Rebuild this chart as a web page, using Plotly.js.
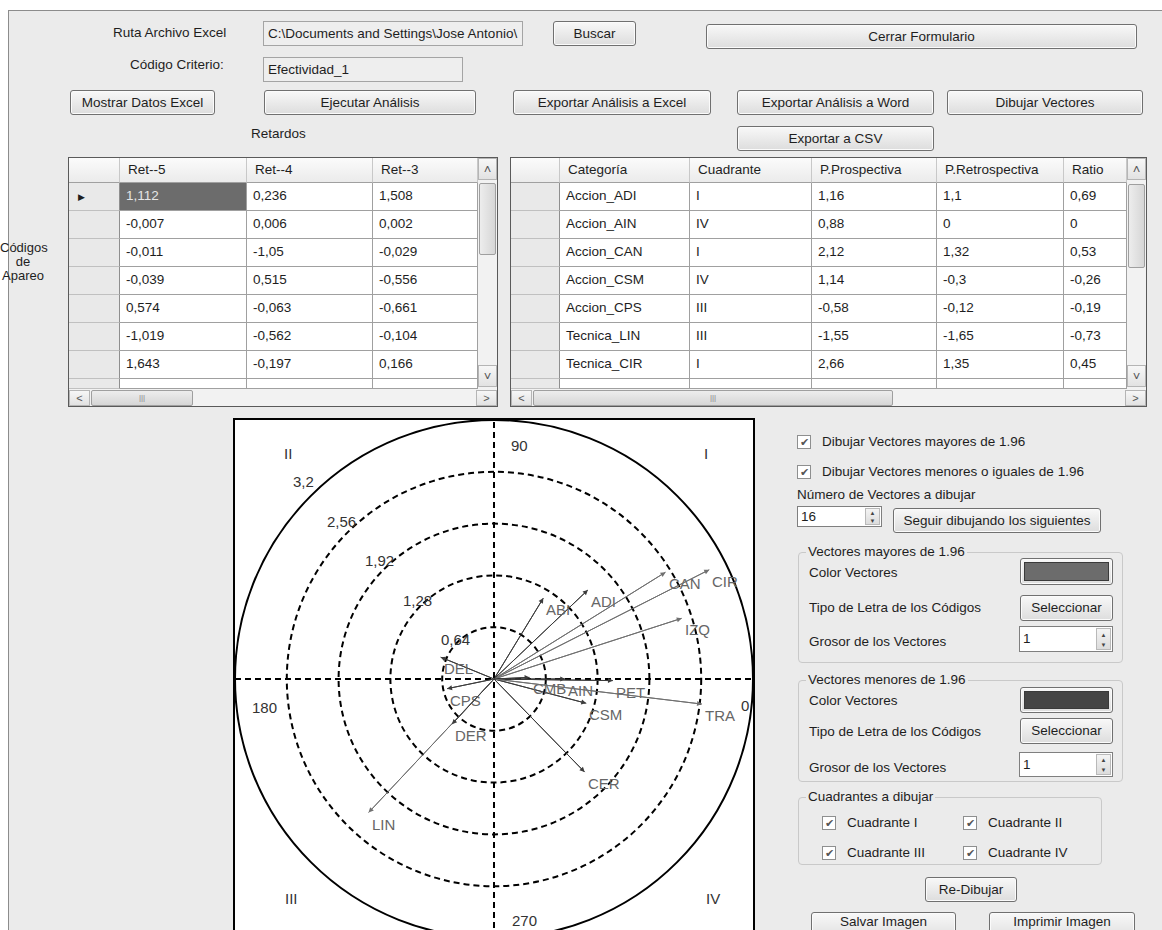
<!DOCTYPE html>
<html lang="es">
<head>
<meta charset="utf-8">
<title>Dibujar Vectores</title>
<script src="https://cdn.plot.ly/plotly-3.0.1.min.js"></script>
<style>
html,body{margin:0;padding:0}
body{position:relative;width:1162px;height:930px;overflow:hidden;background:#ffffff;font-family:"Liberation Sans",Arial,sans-serif;font-size:13.5px;color:#1e1e1e}
#form{position:absolute;left:8px;top:10px;right:0;bottom:0;background:#ebebeb;border-top:1px solid #8c8c8c;border-left:1px solid #8c8c8c}
.a{position:absolute;box-sizing:border-box;white-space:nowrap}
.btn{border:1px solid #707070;border-radius:3px;background:linear-gradient(#f8f8f8,#dddddd);text-align:center;box-shadow:inset 0 0 0 1px #fbfbfb}
.tb{border:1px solid #a4a4a4;background:#eeeeee;padding-left:4px;overflow:hidden}
.grp{border:1px solid #c9c9c9;border-radius:4px}
.chk{border:1px solid #8e8f8f;background:#fff;font-size:11px;text-align:center;color:#555}
.spin{border:1px solid #7f7f7f;background:#fff;padding-left:3px}
.spb{border:1px solid #b9b9b9;background:linear-gradient(#f4f4f4,#dcdcdc);font-size:6px;line-height:6px;text-align:center;color:#444;padding-top:1px}
.cell{border-right:1px solid #a0a0a0;border-bottom:1px solid #a0a0a0;background:#fff;padding-left:6px;overflow:hidden}
.hdr{border-right:1px solid #c8c8c8;border-bottom:1px solid #a0a0a0;background:linear-gradient(#fbfbfb,#ebebeb);padding-left:8px;overflow:hidden}
.rh{border-right:1px solid #8f8f8f;border-bottom:1px solid #ffffff;background:#e9e9e9}
.sb{background:#f2f2f2}
.sbb{border:1px solid #b5b5b5;background:linear-gradient(#f7f7f7,#e2e2e2);text-align:center;font-size:9px;color:#555}
.thumb{border:1px solid #9f9f9f;border-radius:2px;background:linear-gradient(90deg,#ededed,#d6d6d6)}
.thumbh{border:1px solid #9f9f9f;border-radius:2px;background:linear-gradient(#ededed,#d6d6d6);text-align:center;font-size:8px;color:#888}
#chart{position:absolute;left:225px;top:410px;width:538px;height:538px}
</style>
</head>
<body>
<div id="form"></div>
<div id="chart"></div>
<script>
// ---------------- data: vectors (P.Prospectiva = x, P.Retrospectiva = y) ----------------
const codes         = ['ADI', 'AIN', 'CAN', 'CSM', 'CPS', 'LIN', 'CIR', 'ABI', 'IZQ', 'CMB', 'PET', 'TRA', 'CER', 'DER', 'DEL'];
const prospectiva   = [1.16, 0.88, 2.12, 1.14, -0.58, -1.55, 2.66, 0.61, 2.32, 0.44, 1.47, 2.57, 1.12, -0.52, -0.66];
const retrospectiva = [1.10, 0.00, 1.32, -0.30, -0.12, -1.65, 1.35, 1.00, 0.75, 0.02, -0.02, -0.31, -1.15, -0.56, 0.27];
const threshold = 1.96;
const ringValues = [0.64, 1.28, 1.92, 2.56, 3.2];
const ringLabels = ['0,64', '1,28', '1,92', '2,56', '3,2'];
const quadrantLabels = ['I', 'II', 'III', 'IV'];
const angleLabels = ['0', '90', '180', '270'];

// ---------------- data: tables ----------------
const retHeaders = ['Ret--5', 'Ret--4', 'Ret--3'];
const ret5 = [1.112, -0.007, -0.011, -0.039, 0.574, -1.019, 1.643];
const ret4 = [0.236, 0.006, -1.05, 0.515, -0.063, -0.562, -0.197];
const ret3 = [1.508, 0.002, -0.029, -0.556, -0.661, -0.104, 0.166];
const resHeaders = ['Categoría', 'Cuadrante', 'P.Prospectiva', 'P.Retrospectiva', 'Ratio'];
const categorias = ['Accion_ADI', 'Accion_AIN', 'Accion_CAN', 'Accion_CSM', 'Accion_CPS', 'Tecnica_LIN', 'Tecnica_CIR'];
const cuadrantes = ['I', 'IV', 'I', 'IV', 'III', 'III', 'I'];
const pProspectiva = [1.16, 0.88, 2.12, 1.14, -0.58, -1.55, 2.66];
const pRetrospectiva = [1.1, 0, 1.32, -0.3, -0.12, -1.65, 1.35];
const ratio = [0.69, 0, 0.53, -0.26, -0.19, -0.73, 0.45];

const fmt = v => String(v).replace('.', ',');

// ---------------- form helpers ----------------
function el(cls, x, y, w, h, text, style) {
  const d = document.createElement('div');
  d.className = 'a ' + (cls || '');
  d.style.left = x + 'px'; d.style.top = y + 'px';
  if (w != null) d.style.width = w + 'px';
  if (h != null) { d.style.height = h + 'px'; d.style.lineHeight = (h - 2) + 'px'; }
  if (text != null) d.textContent = text;
  if (style) Object.assign(d.style, style);
  document.body.appendChild(d);
  return d;
}
function label(x, yc, text, style) { return el('', x, yc - 9, null, 18, text, Object.assign({lineHeight: '18px'}, style || {})); }
function btn(x, y, w, h, text, style) { return el('btn', x, y, w, h, text, style); }
function chk(x, y, text) { el('chk', x, y, 14, 14, '\u2714', {lineHeight: '12px'}); label(x + 25, y + 7, text); }
function spin(x, y, w, h, text) {
  el('spin', x, y, w, h, text);
  el('spb', x + w - 17, y + 2, 15, h - 4, '\u25B2\n\u25BC', {whiteSpace: 'pre', lineHeight: ((h - 6) / 2) + 'px'});
}
function group(x, y, w, h, title) { el('grp', x, y, w, h); label(x + 8, y, title, {background: '#ebebeb', padding: '0 2px'}); }
function swatch(x, y, w, h, color) {
  el('btn', x, y, w, h);
  el('', x + 4, y + 4, w - 8, h - 8, null, {background: color, border: '1px solid #3a3a3a'});
}

// ---------------- top controls ----------------
label(113, 33, 'Ruta Archivo Excel');
el('tb', 263, 21, 260, 25, 'C:\\Documents and Settings\\Jose Antonio\\');
btn(553, 21, 83, 25, 'Buscar');
btn(706, 24, 431, 25, 'Cerrar Formulario');
label(130, 65, 'Código Criterio:');
el('tb', 263, 57, 200, 25, 'Efectividad_1');
btn(70, 90, 145, 25, 'Mostrar Datos Excel');
btn(264, 90, 212, 25, 'Ejecutar Análisis');
btn(513, 90, 198, 25, 'Exportar Análisis a Excel');
btn(737, 90, 197, 25, 'Exportar Análisis a Word');
btn(947, 90, 196, 25, 'Dibujar Vectores');
label(251, 134, 'Retardos');
btn(737, 126, 197, 25, 'Exportar a CSV');
el('', 0, 241, 46, 48, 'Códigos\nde\nApareo', {whiteSpace: 'pre', textAlign: 'center', lineHeight: '14px', fontSize: '13px'});

// ---------------- tables ----------------
function table(x0, colEdges, headers, columns, selected, thumbV, thumbH) {
  const top = 157, hh = 26, rh = 28, nrows = columns[0].length, bottom = 407, hsTop = 389;
  const right = colEdges[colEdges.length - 1];
  el('', x0, top, right + 20 - x0, bottom - top, null, {background: '#fff', border: '1px solid #5a5a5a'});
  el('hdr', x0 + 1, top + 1, colEdges[0] - x0 - 1, hh - 1, '');
  headers.forEach((h, j) => el('hdr', colEdges[j], top + 1, colEdges[j + 1] - colEdges[j], hh - 1, h, {lineHeight: (hh - 3) + 'px'}));
  for (let i = 0; i <= nrows; i++) {
    const y = top + hh + i * rh;
    const hgt = i < nrows ? rh : hsTop - y;
    el('rh', x0 + 1, y, colEdges[0] - x0 - 1, hgt, i === 0 && selected ? '\u25B6' : '', {fontSize: '9px', paddingLeft: '9px', lineHeight: rh + 'px', borderBottom: '1px solid #c0c0c0'});
    columns.forEach((col, j) => {
      const txt = i < nrows ? col[i] : '';
      const st = {lineHeight: (rh - 2) + 'px'};
      if (selected && i === 0 && j === 0) { st.background = '#6c6c6c'; st.color = '#e6e6e6'; }
      el('cell', colEdges[j], y, colEdges[j + 1] - colEdges[j], hgt, txt, st);
    });
  }
  el('sb', right, top + 1, 19, hsTop - top - 1);
  el('sbb', right, top + 1, 19, 22, '\u02C4', {fontSize: '13px', lineHeight: '22px'});
  el('thumb', right + 1, thumbV[0], 17, thumbV[1] - thumbV[0]);
  el('sbb', right, hsTop - 24, 19, 22, '\u02C5', {fontSize: '13px', lineHeight: '22px'});
  el('sb', x0 + 1, hsTop, right + 19 - x0 - 1, bottom - hsTop - 1);
  el('sbb', x0 + 1, hsTop + 1, 21, 16, '<', {lineHeight: '14px', fontSize: '11px'});
  el('thumbh', thumbH[0], hsTop + 1, thumbH[1] - thumbH[0], 16, '|||', {lineHeight: '14px'});
  el('sbb', right - 2, hsTop + 1, 21, 16, '>', {lineHeight: '14px', fontSize: '11px'});
}
table(68, [120, 247, 373, 478], retHeaders, [ret5.map(fmt), ret4.map(fmt), ret3.map(fmt)], true, [183, 255], [91, 193]);
table(510, [560, 690, 812, 937, 1064, 1127], resHeaders,
  [categorias, cuadrantes, pProspectiva.map(fmt), pRetrospectiva.map(fmt), ratio.map(fmt)], false, [184, 268], [533, 893]);

// ---------------- right panel ----------------
chk(797, 435, 'Dibujar Vectores mayores de 1.96');
chk(797, 465, 'Dibujar Vectores menores o iguales de 1.96');
label(797, 495, 'Número de Vectores a dibujar');
spin(797, 506, 85, 21, '16');
btn(893, 508, 208, 25, 'Seguir dibujando los siguientes');
group(798, 552, 325, 111, 'Vectores mayores de 1.96');
label(809, 573, 'Color Vectores');
swatch(1020, 558, 93, 27, '#6c6c6c');
label(809, 608, 'Tipo de Letra de los Códigos');
btn(1020, 595, 93, 26, 'Seleccionar');
label(809, 642, 'Grosor de los Vectores');
spin(1019, 626, 94, 26, '1');
group(798, 680, 325, 102, 'Vectores menores de 1.96');
label(809, 701, 'Color Vectores');
swatch(1020, 687, 93, 26, '#454545');
label(809, 732, 'Tipo de Letra de los Códigos');
btn(1020, 718, 93, 26, 'Seleccionar');
label(809, 768, 'Grosor de los Vectores');
spin(1019, 752, 94, 25, '1');
group(798, 797, 304, 68, 'Cuadrantes a dibujar');
chk(822, 816, 'Cuadrante I');
chk(963, 816, 'Cuadrante II');
chk(822, 846, 'Cuadrante III');
chk(963, 846, 'Cuadrante IV');
btn(925, 877, 92, 25, 'Re-Dibujar');
btn(811, 912, 145, 30, 'Salvar Imagen', {lineHeight: '14px', paddingTop: '2px'});
btn(989, 912, 146, 30, 'Imprimir Imagen', {lineHeight: '14px', paddingTop: '2px'});

// ---------------- polar vector chart (Plotly) ----------------
const big = [], small = [];
codes.forEach((c, i) => {
  const m = Math.hypot(prospectiva[i], retrospectiva[i]);
  (m > threshold ? big : small).push(i);
});
const colBig = '#707070', colSmall = '#3c3c3c';
function vecTrace(idx, color, name) {
  const xs = [], ys = [];
  idx.forEach(i => { xs.push(0, prospectiva[i], null); ys.push(0, retrospectiva[i], null); });
  return {type: 'scatter', mode: 'lines', x: xs, y: ys, name, line: {color, width: 1}, hoverinfo: 'skip', showlegend: false};
}
const traces = [vecTrace(big, colBig, 'Vectores mayores de 1.96'), vecTrace(small, colSmall, 'Vectores menores de 1.96')];

const dash = '6px,4px';
const shapes = [];
ringValues.forEach((r, k) => {
  shapes.push({type: 'circle', xref: 'x', yref: 'y', x0: -r, y0: -r, x1: r, y1: r,
    line: {color: '#000', width: 2, dash: k === ringValues.length - 1 ? 'solid' : dash}});
});
const R = ringValues[ringValues.length - 1];
shapes.push({type: 'line', xref: 'x', yref: 'y', x0: -R, x1: R, y0: 0, y1: 0, line: {color: '#000', width: 2, dash}});
shapes.push({type: 'line', xref: 'x', yref: 'y', x0: 0, x1: 0, y0: -R, y1: R, line: {color: '#000', width: 2, dash}});

const annotations = [];
const fnt = (c) => ({family: 'Liberation Sans, Arial, sans-serif', size: 15, color: c});
const th = 134 * Math.PI / 180;
ringValues.forEach((r, k) => {
  annotations.push({x: r * 1.06 * Math.cos(th), y: r * 1.06 * Math.sin(th), text: ringLabels[k], showarrow: false,
    xanchor: 'center', yanchor: 'middle', font: fnt('#333')});
});
const quadPos = [[2.62, 2.78], [-2.55, 2.78], [-2.5, -2.71], [2.7, -2.71]];
quadrantLabels.forEach((t, k) => annotations.push({x: quadPos[k][0], y: quadPos[k][1], text: t, showarrow: false, font: fnt('#333')}));
const angPos = [[3.1, -0.33], [0.32, 2.88], [-2.83, -0.35], [0.38, -2.98]];
angleLabels.forEach((t, k) => annotations.push({x: angPos[k][0], y: angPos[k][1], text: t, showarrow: false, font: fnt('#333')}));
codes.forEach((c, i) => {
  const col = big.includes(i) ? colBig : colSmall;
  annotations.push({x: prospectiva[i], y: retrospectiva[i], ax: 0, ay: 0, axref: 'x', ayref: 'y', xref: 'x', yref: 'y',
    text: '', showarrow: true, arrowhead: 2, arrowsize: 1, arrowwidth: 1, arrowcolor: col, standoff: 0});
  annotations.push({x: prospectiva[i], y: retrospectiva[i], text: c, showarrow: false, xanchor: 'left', yanchor: 'top',
    xshift: 1, yshift: -1, font: fnt('#666')});
});

const axis = {range: [-R, R], showgrid: false, zeroline: false, showticklabels: false, ticks: '',
  showline: true, mirror: true, linecolor: '#000', linewidth: 2, fixedrange: true};
Plotly.newPlot('chart', traces, {
  width: 538, height: 538,
  margin: {l: 10, r: 10, t: 10, b: 10},
  paper_bgcolor: 'rgba(0,0,0,0)', plot_bgcolor: '#ffffff',
  xaxis: axis, yaxis: Object.assign({}, axis),
  shapes, annotations, showlegend: false,
  font: {family: 'Liberation Sans, Arial, sans-serif', size: 15, color: '#333'}
}, {displayModeBar: false, staticPlot: true});
</script>
</body>
</html>
